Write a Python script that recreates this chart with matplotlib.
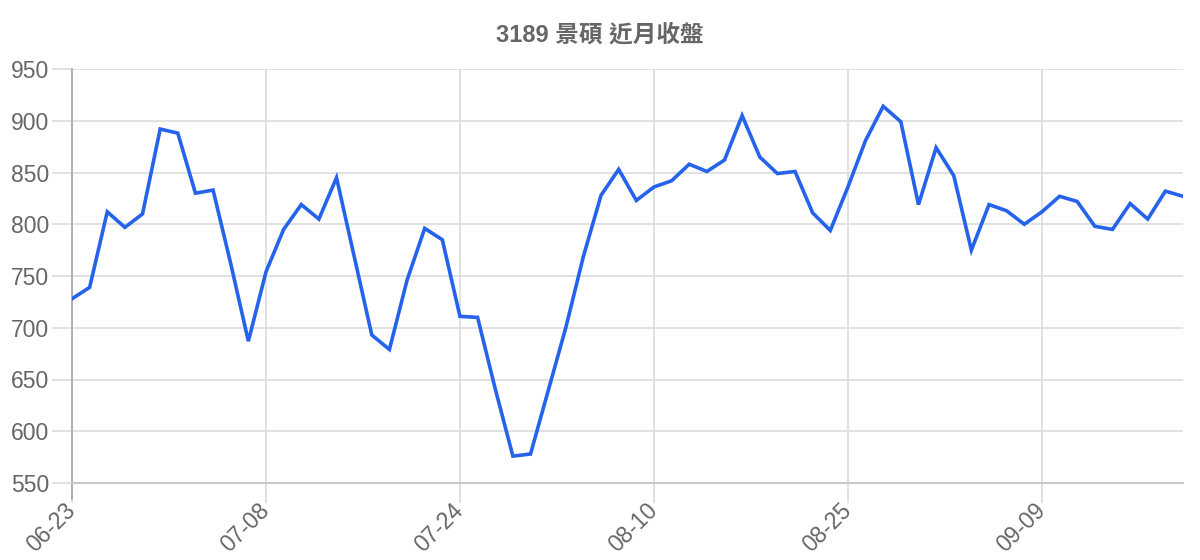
import matplotlib
matplotlib.use("Agg")
import matplotlib.pyplot as plt

# closing prices, one per trading day
closes = [728, 739, 812, 797, 810, 892, 888, 830, 833, 762,
          687, 754, 795, 819, 805, 845, 769, 693, 679, 746,
          796, 785, 711, 710, 641, 576, 578, 639, 700, 769,
          828, 853, 823, 836, 842, 858, 851, 862, 905, 865,
          849, 851, 811, 794, 836, 881, 914, 899, 819, 874,
          847, 775, 819, 813, 800, 812, 827, 822, 798, 795,
          820, 805, 832, 827]
tick_idx = [0, 11, 22, 33, 44, 55]
tick_labels = ["06-23", "07-08", "07-24", "08-10", "08-25", "09-09"]
y_ticks = [550, 600, 650, 700, 750, 800, 850, 900, 950]

plt.rcParams['font.family'] = ['Liberation Sans', 'Noto Sans CJK TC', 'DejaVu Sans']

GRID = '#dedede'
TEXT = '#666666'

fig = plt.figure(figsize=(12, 5.6), dpi=100)
ax = fig.add_axes([72/1200, 77/560, 1111/1200, 414/560])

ax.plot(range(len(closes)), closes, color='#2563eb', linewidth=2.6,
        solid_joinstyle='miter', zorder=3)

ax.set_xlim(0, len(closes) - 1)
ax.set_ylim(550, 950)
ax.set_yticks(y_ticks)
ax.set_xticks(tick_idx)
ax.set_xticklabels(tick_labels, rotation=45, ha='right', va='center',
                   rotation_mode='anchor')

ax.grid(True, color=GRID, linewidth=1.3, zorder=0)
ax.tick_params(axis='both', length=14.4, width=1.3, color=GRID,
               labelcolor=TEXT, labelsize=16.5, pad=2)
ax.tick_params(axis='x', pad=3)

for side in ['top', 'right']:
    ax.spines[side].set_visible(False)
ax.spines['left'].set_color('#aaaaaa')
ax.spines['left'].set_linewidth(1.3)
ax.spines['left'].set_bounds(535, 950)
ax.spines['bottom'].set_color('#c8c8c8')
ax.spines['bottom'].set_linewidth(1.5)
ax.xaxis.get_major_ticks()[0].tick1line.set_color('#aaaaaa')

fig.text(0.5, 1 - 35/560, "3189 景碩 近月收盤", fontsize=17, fontweight='bold',
         color=TEXT, ha='center', va='center')

fig.savefig("out.png", dpi=100)
